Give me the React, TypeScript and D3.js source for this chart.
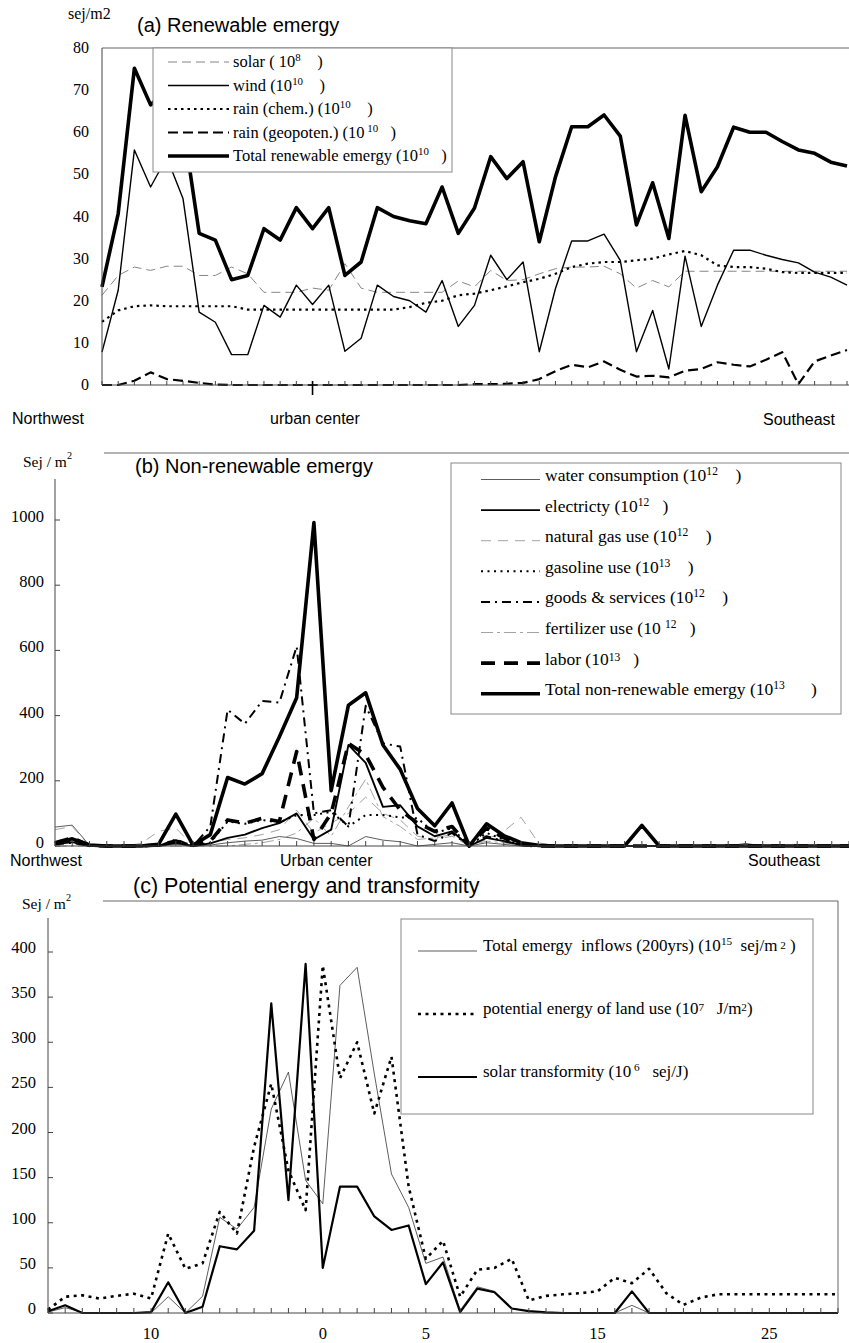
import { useEffect, useRef } from "react";
import * as d3 from "d3";

// (a) Renewable emergy, 47 sample points from Northwest to Southeast
const aSolar = [21.3, 26, 28, 27.2, 28.2, 28.2, 26, 26, 28, 26.4, 22, 22, 22, 23, 22.5, 28.8, 23, 22, 22, 22, 22, 22, 24.7, 23.3, 27.2, 24.8, 25, 26.4, 27.6, 28, 28, 28.2, 26.4, 23, 24.8, 23.3, 27, 27, 27, 27, 27, 27, 27, 27, 27, 27, 27];
const aWind = [7.8, 22.5, 55.8, 47, 54, 44.3, 17.3, 14.9, 7.2, 7.2, 18.9, 16.1, 23.7, 19.1, 23.7, 8, 11.1, 23.7, 21, 20, 17.3, 24.8, 13.9, 18.9, 30.8, 25, 29.2, 7.9, 22.9, 34.2, 34.2, 35.8, 29.6, 7.9, 17.7, 3.8, 30.6, 13.9, 23.7, 32, 32, 30.8, 29.8, 29, 26.8, 25.6, 23.7];
const aRainChem = [15, 17.7, 18.7, 18.9, 18.7, 18.7, 18.7, 18.7, 18.7, 17.9, 17.9, 17.9, 17.9, 17.9, 17.9, 17.9, 17.9, 17.9, 17.9, 18.5, 19.5, 20, 21.3, 21.7, 22.5, 23.4, 24.4, 25.2, 26.4, 28, 28.8, 29.2, 29.2, 29.6, 30, 31, 31.8, 30.8, 28.4, 28, 28, 27.6, 26.8, 26.6, 26.6, 26.6, 26.6];
const aRainGeo = [0, 0, 1, 3, 1.4, 1, 0.5, 0.1, 0, 0, 0, 0, 0, 0, 0, 0, 0, 0, 0, 0, 0, 0, 0, 0.2, 0.2, 0.3, 0.5, 1.4, 3.3, 4.8, 4.2, 5.6, 3.6, 2, 2.2, 1.8, 3.4, 3.8, 5.4, 4.8, 4.4, 6, 7.8, 0.2, 5.6, 7, 8.3];
const aTotal = [23.3, 40.7, 75.2, 66.5, 70, 62, 36, 34.4, 25, 26, 37.1, 34.4, 42.1, 37.1, 42.1, 26, 29.2, 42.1, 40, 39, 38.3, 47, 36, 42, 54.2, 49, 53, 34, 49.4, 61.3, 61.3, 64.1, 59.1, 38, 48, 34.8, 64, 45.9, 51.8, 61.2, 60, 60, 57.8, 55.8, 55, 52.9, 52];
const aTicks = [0, 10, 20, 30, 40, 50, 60, 70, 80];

// (b) Non-renewable emergy
const bWater = [58, 64, 2, 0, 0, 0, 0, 5, 0, 3, 10, 15, 18, 29, 23, 8, 8, 0, 29, 18, 13, 0, 5, 10, 0, 10, 5, 0, 0, 0, 0, 0, 0, 0, 0, 0, 0, 0, 0, 0, 8, 0, 0, 0, 0, 0, 0];
const bElectricity = [5, 12, 0, 0, 0, 0, 0, 10, 0, 8, 25, 35, 55, 70, 100, 20, 50, 310, 255, 120, 125, 60, 30, 45, 0, 25, 15, 3, 0, 0, 0, 0, 0, 0, 0, 0, 0, 0, 0, 0, 0, 0, 0, 0, 0, 0, 0];
const bNaturalGas = [50, 60, 0, 0, 0, 8, 45, 55, 0, 10, 20, 25, 35, 50, 110, 40, 70, 100, 150, 100, 80, 30, 20, 30, 0, 20, 45, 88, 10, 0, 0, 0, 0, 0, 0, 0, 0, 0, 0, 0, 0, 0, 0, 0, 0, 0, 0];
const bGasoline = [12, 15, 0, 0, 0, 0, 0, 12, 0, 10, 75, 68, 80, 72, 95, 95, 105, 60, 95, 95, 88, 85, 40, 55, 0, 40, 20, 5, 0, 0, 0, 0, 0, 0, 0, 0, 0, 0, 0, 0, 0, 0, 0, 0, 0, 0, 0];
const bGoods = [5, 10, 0, 0, 0, 0, 0, 20, 0, 60, 418, 375, 445, 440, 612, 100, 110, 60, 430, 315, 305, 35, 15, 40, 0, 30, 15, 3, 0, 0, 0, 0, 0, 0, 0, 0, 0, 0, 0, 0, 0, 0, 0, 0, 0, 0, 0];
const bFertilizer = [0, 0, 0, 0, 0, 0, 0, 0, 0, 0, 0, 5, 10, 20, 40, 85, 30, 120, 205, 90, 60, 20, 25, 35, 0, 15, 10, 0, 0, 0, 0, 0, 0, 0, 0, 0, 0, 0, 0, 0, 0, 0, 0, 0, 0, 0, 0];
const bLabor = [10, 25, 2, 0, 0, 0, 3, 15, 2, 15, 80, 70, 85, 75, 290, 20, 100, 315, 280, 180, 110, 70, 45, 60, 0, 55, 25, 5, 0, 0, 0, 0, 0, 0, 0, 0, 0, 0, 0, 0, 0, 0, 0, 0, 0, 0, 0];
const bTotal = [8, 22, 3, 0, 0, 0, 5, 98, 3, 35, 210, 190, 222, 335, 455, 992, 170, 432, 470, 310, 235, 115, 62, 132, 0, 68, 32, 10, 2, 0, 0, 0, 0, 0, 63, 0, 0, 0, 0, 0, 0, 0, 0, 0, 0, 0, 0];
const bTicks = [0, 200, 400, 600, 800, 1000];

// (c) Potential energy and transformity
const cInflows = [1, 6, 0.5, 0, 0, 0, 0, 18, 0, 18.5, 106, 93, 117, 226, 267, 147, 121, 363, 383, 265, 154, 117, 55, 62, 3, 29, 24, 5, 2, 0, 0, 0, 0, 0, 8.5, 0, 0, 0, 0, 0, 0, 0, 0, 0, 0, 0, 0];
const cPotential = [3.7, 18, 19.6, 16, 19, 21.4, 16, 88, 49, 55, 112, 88, 184, 254, 158, 114, 385, 260, 300, 221, 284, 140, 60, 80, 18, 48, 50, 60, 14, 19, 20.7, 22, 24, 39, 33, 49, 22, 9, 17, 20.7, 20.7, 20.7, 20.7, 20.7, 20.7, 20.7, 20.7];
const cTransformity = [2, 8.5, 0, 0, 0, 0, 1, 34, 0, 7, 74, 70.5, 91, 343, 125, 387, 50, 140, 140, 107, 92, 97, 32, 56, 1, 27, 23, 5, 2, 0.7, 0, 0, 0, 0, 24, 0, 0, 0, 0, 0, 0, 0, 0, 0, 0, 0, 0];
const cTicks = [0, 50, 100, 150, 200, 250, 300, 350, 400];
const cLabelIdx = [6, 16, 22, 32, 42];
const cLabels = ["10", "0", "5", "15", "25"];

const SERIF = "'Liberation Serif', 'Times New Roman', serif";
const SANS = "'Liberation Sans', Arial, sans-serif";

type Style = { color: string; w: number; dash?: string };
type Part = [string, number];

function App() {
  const ref = useRef<SVGSVGElement>(null);

  useEffect(() => {
    drawChart();
  }, []);

  function drawChart() {
    const svg = d3.select(ref.current);
    svg.selectAll("*").remove();

    const drawLine = (g: any, x: any, y: any, vals: number[], st: Style) => {
      const line = d3.line<number>().x((d, i) => x(i)).y((d) => y(d));
      g.append("path")
        .attr("d", line(vals))
        .attr("fill", "none")
        .attr("stroke", st.color)
        .attr("stroke-width", st.w)
        .attr("stroke-dasharray", st.dash || null)
        .attr("stroke-linejoin", "round");
    };

    const richText = (g: any, x: number, y: number, size: number, parts: Part[]) => {
      const t = g.append("text")
        .attr("x", x).attr("y", y)
        .attr("font-family", SERIF)
        .attr("font-size", size)
        .attr("fill", "#000")
        .style("white-space", "pre");
      let cur = 0;
      parts.forEach(([s, r]) => {
        const ts = t.append("tspan").text(s).attr("dy", -r - cur);
        cur = -r;
        if (r > 0) ts.attr("font-size", size * 0.66);
      });
    };

    const hline = (x1: number, x2: number, y: number, c = "#666") =>
      svg.append("line").attr("x1", x1).attr("x2", x2).attr("y1", y).attr("y2", y).attr("stroke", c).attr("stroke-width", 1);
    const vline = (x: number, y1: number, y2: number, c = "#666") =>
      svg.append("line").attr("x1", x).attr("x2", x).attr("y1", y1).attr("y2", y2).attr("stroke", c).attr("stroke-width", 1);

    const legend = (box: [number, number, number, number], rows: { st: Style; parts: Part[] }[],
      sx1: number, sx2: number, tx: number, y0: number, dy: number, lineOff: number, size: number) => {
      const g = svg.append("g");
      g.append("rect").attr("x", box[0]).attr("y", box[1]).attr("width", box[2]).attr("height", box[3])
        .attr("fill", "#fff").attr("stroke", "#888").attr("stroke-width", 1);
      rows.forEach((r, k) => {
        const yy = y0 + k * dy;
        g.append("line").attr("x1", sx1).attr("x2", sx2).attr("y1", yy - lineOff).attr("y2", yy - lineOff)
          .attr("stroke", r.st.color).attr("stroke-width", r.st.w).attr("stroke-dasharray", r.st.dash || null);
        richText(g, tx, yy, size, r.parts);
      });
    };

    // ---------- (a) ----------
    const xa = d3.scaleLinear().domain([0, 46]).range([102, 847]);
    const ya = d3.scaleLinear().domain([0, 80]).range([385, 48]);
    const ga = svg.append("g");
    const stA = {
      solar: { color: "#777", w: 0.9, dash: "9,5" },
      wind: { color: "#000", w: 1.4 },
      chem: { color: "#000", w: 2.2, dash: "2.5,4" },
      geo: { color: "#000", w: 2.2, dash: "10,5" },
      total: { color: "#000", w: 3.6 },
    };
    hline(102, 849, 48);
    vline(102, 48, 385, "#444");
    hline(102, 849, 385, "#444");
    d3.range(47).forEach((i) => vline(xa(i), 381, 385, "#444"));
    svg.append("line").attr("x1", xa(13)).attr("x2", xa(13)).attr("y1", 381).attr("y2", 395).attr("stroke", "#000").attr("stroke-width", 1.6);
    aTicks.forEach((t) => {
      svg.append("text").attr("x", 89).attr("y", ya(t) + 5).attr("text-anchor", "end")
        .attr("font-family", SERIF).attr("font-size", 16).text(t);
    });
    drawLine(ga, xa, ya, aSolar, stA.solar);
    drawLine(ga, xa, ya, aRainChem, stA.chem);
    drawLine(ga, xa, ya, aRainGeo, stA.geo);
    drawLine(ga, xa, ya, aWind, stA.wind);
    drawLine(ga, xa, ya, aTotal, stA.total);
    legend([153, 48, 299, 124], [
      { st: stA.solar, parts: [["solar ( 10", 0], ["8", 6], ["    )", 0]] },
      { st: stA.wind, parts: [["wind (10", 0], ["10", 6], ["    )", 0]] },
      { st: stA.chem, parts: [["rain (chem.) (10", 0], ["10", 6], ["    )", 0]] },
      { st: stA.geo, parts: [["rain (geopoten.) (10", 0], [" 10", 6], ["   )", 0]] },
      { st: stA.total, parts: [["Total renewable emergy (10", 0], ["10", 6], ["   )", 0]] },
    ], 168, 229, 233, 67, 23.5, 5, 16.5);
    svg.append("text").attr("x", 68).attr("y", 19).attr("font-family", SERIF).attr("font-size", 16).text("sej/m2");
    svg.append("text").attr("x", 137).attr("y", 32).attr("font-family", SANS).attr("font-size", 20).text("(a) Renewable emergy");
    svg.append("text").attr("x", 12).attr("y", 424).attr("font-family", SANS).attr("font-size", 16).text("Northwest");
    svg.append("text").attr("x", 270).attr("y", 424).attr("font-family", SANS).attr("font-size", 16).text("urban center");
    svg.append("text").attr("x", 763).attr("y", 425).attr("font-family", SANS).attr("font-size", 16).text("Southeast");

    // ---------- (b) ----------
    const xb = d3.scaleLinear().domain([0, 46]).range([55, 849]);
    const yb = d3.scaleLinear().domain([0, 1000]).range([846, 520]);
    const gb = svg.append("g");
    const stB = {
      water: { color: "#333", w: 0.8 },
      elec: { color: "#000", w: 1.9 },
      gas: { color: "#999", w: 0.9, dash: "10,7" },
      gasoline: { color: "#000", w: 2, dash: "2,4.5" },
      goods: { color: "#000", w: 2, dash: "9,5,2,5" },
      fert: { color: "#999", w: 0.9, dash: "12,4,3,4" },
      labor: { color: "#000", w: 3.6, dash: "14,9" },
      total: { color: "#000", w: 3.6 },
    };
    hline(104, 849, 453);
    vline(55, 479, 846, "#444");
    hline(55, 849, 846, "#444");
    d3.range(47).forEach((i) => vline(xb(i), 841, 846, "#444"));
    bTicks.forEach((t) => {
      vline(55, yb(t), yb(t), "#444");
      svg.append("line").attr("x1", 55).attr("x2", 60).attr("y1", yb(t)).attr("y2", yb(t)).attr("stroke", "#444");
      svg.append("text").attr("x", 44).attr("y", yb(t) + 2).attr("text-anchor", "end")
        .attr("font-family", SERIF).attr("font-size", 16.5).text(t);
    });
    drawLine(gb, xb, yb, bWater, stB.water);
    drawLine(gb, xb, yb, bNaturalGas, stB.gas);
    drawLine(gb, xb, yb, bFertilizer, stB.fert);
    drawLine(gb, xb, yb, bGasoline, stB.gasoline);
    drawLine(gb, xb, yb, bElectricity, stB.elec);
    drawLine(gb, xb, yb, bGoods, stB.goods);
    drawLine(gb, xb, yb, bLabor, stB.labor);
    drawLine(gb, xb, yb, bTotal, stB.total);
    legend([451, 463, 390, 251], [
      { st: stB.water, parts: [["water consumption (10", 0], ["12", 6], ["    )", 0]] },
      { st: stB.elec, parts: [["electricty (10", 0], ["12", 6], ["   )", 0]] },
      { st: stB.gas, parts: [["natural gas use (10", 0], ["12", 6], ["    )", 0]] },
      { st: stB.gasoline, parts: [["gasoline use (10", 0], ["13", 6], ["    )", 0]] },
      { st: stB.goods, parts: [["goods & services (10", 0], ["12", 6], ["    )", 0]] },
      { st: stB.fert, parts: [["fertilizer use (10 ", 0], ["12", 6], ["   )", 0]] },
      { st: stB.labor, parts: [["labor (10", 0], ["13", 4], ["   )", 0]] },
      { st: stB.total, parts: [["Total non-renewable emergy (10", 0], ["13", 6], ["      )", 0]] },
    ], 481, 540, 545, 481, 30.6, 1.5, 17.5);
    richText(svg, 23, 467, 15.5, [["Sej / m", 0], ["2", 8]]);
    svg.append("text").attr("x", 135).attr("y", 473).attr("font-family", SANS).attr("font-size", 20).text("(b) Non-renewable emergy");
    svg.append("text").attr("x", 10).attr("y", 866).attr("font-family", SANS).attr("font-size", 16).text("Northwest");
    svg.append("text").attr("x", 280).attr("y", 866).attr("font-family", SANS).attr("font-size", 16).text("Urban center");
    svg.append("text").attr("x", 748).attr("y", 866).attr("font-family", SANS).attr("font-size", 16).text("Southeast");

    // ---------- (c) ----------
    const xc = d3.scaleLinear().domain([0, 46]).range([48, 838]);
    const yc = d3.scaleLinear().domain([0, 400]).range([1313, 952]);
    const gc = svg.append("g");
    const stC = {
      inflow: { color: "#333", w: 0.8 },
      potential: { color: "#000", w: 2.6, dash: "3,4.5" },
      transf: { color: "#000", w: 2.2 },
    };
    hline(103, 838, 901);
    vline(838, 901, 1313);
    vline(48, 918, 1313, "#444");
    hline(48, 838, 1313, "#444");
    d3.range(47).forEach((i) => vline(xc(i), 1308, 1313, "#444"));
    cTicks.forEach((t) => {
      svg.append("line").attr("x1", 48).attr("x2", 53).attr("y1", yc(t)).attr("y2", yc(t)).attr("stroke", "#444");
      svg.append("text").attr("x", 36).attr("y", yc(t) + 1).attr("text-anchor", "end")
        .attr("font-family", SERIF).attr("font-size", 16.5).text(t);
    });
    cLabelIdx.forEach((idx, k) => {
      svg.append("text").attr("x", xc(idx)).attr("y", 1339).attr("text-anchor", "middle")
        .attr("font-family", SERIF).attr("font-size", 16.5).text(cLabels[k]);
    });
    drawLine(gc, xc, yc, cInflows, stC.inflow);
    drawLine(gc, xc, yc, cPotential, stC.potential);
    drawLine(gc, xc, yc, cTransformity, stC.transf);
    legend([401, 919, 412, 195], [
      { st: stC.inflow, parts: [["Total emergy  inflows (200yrs) (10", 0], ["15", 6], ["  sej/m", 0], [" 2", 2], [" )", 0]] },
      { st: stC.potential, parts: [["potential energy of land use (10", 0], ["7", 3], ["   J/m", 0], ["2", 3], [")", 0]] },
      { st: stC.transf, parts: [["solar transformity (10", 0], [" 6", 6], ["   sej/J)", 0]] },
    ], 418, 477, 483, 951, 63, 0, 17);
    richText(svg, 22, 909, 15.5, [["Sej / m", 0], ["2", 8]]);
    svg.append("text").attr("x", 133).attr("y", 893).attr("font-family", SANS).attr("font-size", 21.5).text("(c) Potential energy and transformity");
  }

  return (
    <svg ref={ref} width={849} height={1343}
      style={{ position: "absolute", left: 0, top: 0, background: "#fff" }} />
  );
}

export default App;
